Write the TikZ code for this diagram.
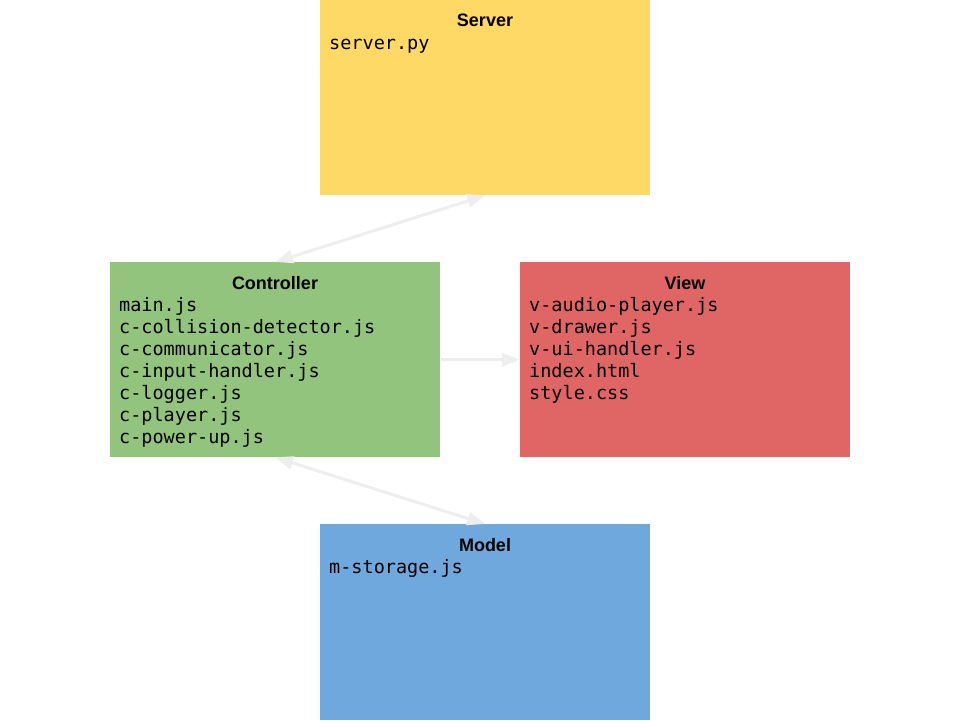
\documentclass[tikz,border=0pt]{standalone}
\usepackage{fontspec}
\setmainfont{Liberation Sans}
\newfontfamily\monof{DejaVu Sans Mono}
\usetikzlibrary{arrows.meta}
\definecolor{serverc}{HTML}{FFD966}
\definecolor{ctrlc}{HTML}{93C47D}
\definecolor{viewc}{HTML}{E06666}
\definecolor{modelc}{HTML}{6FA8DC}
\definecolor{arrowc}{HTML}{EEEEEE}
\tikzset{
  box/.style={draw=none, minimum width=330pt, minimum height=195pt, anchor=north west, inner sep=0pt},
  hdr/.style={anchor=base, inner sep=0pt, font=\fontsize{18}{22}\selectfont\bfseries},
  file/.style={anchor=base west, inner sep=0pt, font=\fontsize{18.5}{22}\selectfont\monof},
  conn/.style={draw=arrowc, line width=3pt, arrows={-Triangle[length=18pt,width=13pt]}},
  conn2/.style={draw=arrowc, line width=3pt, arrows={Triangle[length=18pt,width=13pt]-Triangle[length=18pt,width=13pt]}}
}
\begin{document}
\begin{tikzpicture}[x=1pt,y=-1pt]
\useasboundingbox (0,0) rectangle (960,720);
\node[box, fill=serverc] (server) at (320,0) {};
\node[box, fill=ctrlc] (controller) at (110,262) {};
\node[box, fill=viewc] (view) at (520,262) {};
\node[box, fill=modelc, minimum height=196pt] (model) at (320,524) {};

\node[hdr] (serverh) at (485,27) {Server};
\node[file] (s1) at (329,49) {server.py};

\node[hdr] (ctrlh) at (275,289) {Controller};
\foreach \t [count=\i] in {main.js,c-collision-detector.js,c-communicator.js,c-input-handler.js,c-logger.js,c-player.js,c-power-up.js}
  \node[file] (c\i) at (119,{289+22*\i}) {\t};

\node[hdr] (viewh) at (685,289) {View};
\foreach \t [count=\i] in {v-audio-player.js,v-drawer.js,v-ui-handler.js,index.html,style.css}
  \node[file] (v\i) at (529,{289+22*\i}) {\t};

\node[hdr] (modelh) at (485,551) {Model};
\node[file] (m1) at (329,573) {m-storage.js};

\draw[conn2] (server.south) -- (controller.north);
\draw[conn, shorten <=1pt] (controller.east) -- (view.west);
\draw[conn2] (controller.south) -- (model.north);
\end{tikzpicture}
\end{document}
